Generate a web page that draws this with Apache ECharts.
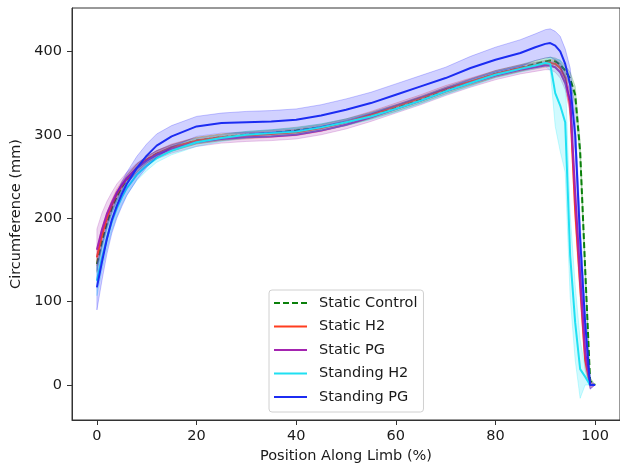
<!DOCTYPE html>
<html>
<head>
<meta charset="utf-8">
<script src="https://cdn.jsdelivr.net/npm/echarts@6/dist/echarts.min.js"></script>
<style>
  html, body { margin: 0; padding: 0; background: #fff; }
  #chart { width: 620px; height: 469px; }
</style>
</head>
<body>
<div id="chart"></div>
<script>
// position along limb (%)
const positions = [0,1,2,3,4,5,6,8,10,12,15,20,25,30,35,40,45,50,55,60,65,70,75,80,85,88,90,91,92,93,94,95,96,97,98,99,100];

// mean circumference (mm)
const staticControl = [145,172,194,212,226,237,246,260,270,277,284,293,297,300,302,305,309,315,323,332,342,353,363,373,380,385,388,389,388,384,377,367,348,280,140,5,0];
const staticH2 = [153,180,200,216,229,239,247,260,270,277,285,293,297,299,301,303,308,315,324,334,344,355,364,373,380,383,385,386,385,380,368,335,210,120,30,0,0];
const staticPG = [162,186,205,219,231,240,248,260,269,276,283,291,295,297,298,300,305,312,321,331,341,352,362,371,378,381,383,383,381,375,362,340,230,130,40,0,0];
const standingH2 = [125,152,176,196,212,225,236,252,263,272,281,291,296,300,302,304,309,315,322,331,341,352,362,372,379,383,386,385,350,335,315,155,75,19,10,0,0];
const standingPG = [117,147,175,198,215,229,241,260,275,287,298,310,314,315,316,318,323,330,338,348,358,368,380,390,398,405,409,410,407,400,385,360,300,175,75,0,0];

// standard deviation (mm)
const stdStaticControl = [10,8,7,6,6,5,5,5,4,4,4,4,4,4,4,4,4,4,4,4,4,4,4,4,4,4,4,4,4,5,6,8,10,12,10,4,0];
const stdStaticH2 = [10,8,7,6,6,5,5,5,4,4,4,4,4,4,4,4,4,4,4,4,4,4,4,4,4,4,4,4,5,6,8,12,15,15,12,4,0];
const stdStaticPG = [25,20,15,12,10,8,7,6,5,5,5,5,5,5,5,5,5,5,5,5,5,5,5,5,5,5,5,5,6,7,8,12,18,18,15,5,0];
const stdStandingH2 = [18,15,13,11,10,9,8,7,6,5,5,5,4,4,4,4,4,4,4,4,4,4,4,4,4,4,4,8,40,55,60,50,45,35,10,0,0];
const stdStandingPG = [27,22,18,16,15,15,14,14,14,14,13,12,12,13,13,13,13,13,13,13,13,13,14,15,16,16,17,17,17,18,18,20,22,22,18,5,0];

const xTicks = [0,20,40,60,80,100];
const yTicks = [0,100,200,300,400];

const groups = [
  { name: 'Static Control', mean: staticControl, std: stdStaticControl, color: '#0a800a', rgb: '0,128,0', dash: [6, 3] },
  { name: 'Static H2', mean: staticH2, std: stdStaticH2, color: '#ff3d1f', rgb: '255,40,20' },
  { name: 'Static PG', mean: staticPG, std: stdStaticPG, color: '#a424b0', rgb: '160,30,170' },
  { name: 'Standing H2', mean: standingH2, std: stdStandingH2, color: '#1fe0f2', rgb: '0,230,250' },
  { name: 'Standing PG', mean: standingPG, std: stdStandingPG, color: '#1c2cf2', rgb: '0,0,255' },
];

const chart = echarts.init(document.getElementById('chart'));
const font = 'DejaVu Sans';
const txt = '#1a1a1a';

const series = [];
groups.forEach((g, k) => {
  // shaded band: mean +/- std
  series.push({
    type: 'custom',
    name: g.name + ' band',
    silent: true,
    z: 1 + k * 2,
    data: [[0, 0]],
    renderItem(params, api) {
      const upper = positions.map((x, i) => api.coord([x, g.mean[i] + g.std[i]]));
      const lower = positions.map((x, i) => api.coord([x, g.mean[i] - g.std[i]])).reverse();
      return {
        type: 'polygon',
        shape: { points: upper.concat(lower) },
        style: { fill: `rgba(${g.rgb},0.18)`, stroke: `rgba(${g.rgb},0.22)`, lineWidth: 1 },
      };
    },
  });
  series.push({
    type: 'line',
    name: g.name,
    z: 2 + k * 2,
    symbol: 'none',
    data: positions.map((x, i) => [x, g.mean[i]]),
    itemStyle: { color: g.color },
    lineStyle: { color: g.color, width: 2, type: g.dash || 'solid' },
  });
});

const option = {
  animation: false,
  textStyle: { fontFamily: font },
  grid: { left: 72, top: 8, right: -5, bottom: 49, show: true, borderColor: '#333', borderWidth: 1 },
  legend: {
    data: groups.map(g => g.name),
    orient: 'vertical',
    left: 269,
    top: 290,
    padding: [5, 6, 7, 4],
    itemWidth: 33,
    itemHeight: 14,
    itemGap: 7.5,
    itemStyle: { opacity: 0 },
    borderColor: '#d0d0d0',
    borderWidth: 1,
    borderRadius: 3,
    backgroundColor: 'rgba(255,255,255,0.8)',
    textStyle: { fontFamily: font, fontSize: 14.5, color: txt, lineHeight: 16, padding: [0, 0, 0, 7] },
  },
  xAxis: {
    type: 'value',
    min: -5,
    max: 105,
    name: 'Position Along Limb (%)',
    nameLocation: 'middle',
    nameGap: 29,
    nameTextStyle: { fontFamily: font, fontSize: 14.5, color: txt },
    axisLine: { show: true, onZero: false, lineStyle: { color: '#333' } },
    axisTick: { show: true, length: 5, customValues: xTicks, lineStyle: { color: '#333' } },
    axisLabel: { customValues: xTicks, fontFamily: font, fontSize: 14.5, color: txt, margin: 9 },
    splitLine: { show: false },
  },
  yAxis: {
    type: 'value',
    min: -42,
    max: 452,
    name: 'Circumference (mm)',
    nameLocation: 'middle',
    nameGap: 46,
    nameTextStyle: { fontFamily: font, fontSize: 14.5, color: txt },
    axisLine: { show: true, onZero: false, lineStyle: { color: '#333' } },
    axisTick: { show: true, length: 5, customValues: yTicks, lineStyle: { color: '#333' } },
    axisLabel: { customValues: yTicks, fontFamily: font, fontSize: 14.5, color: txt, margin: 10 },
    splitLine: { show: false },
  },
  series,
};

chart.setOption(option);
</script>
</body>
</html>
